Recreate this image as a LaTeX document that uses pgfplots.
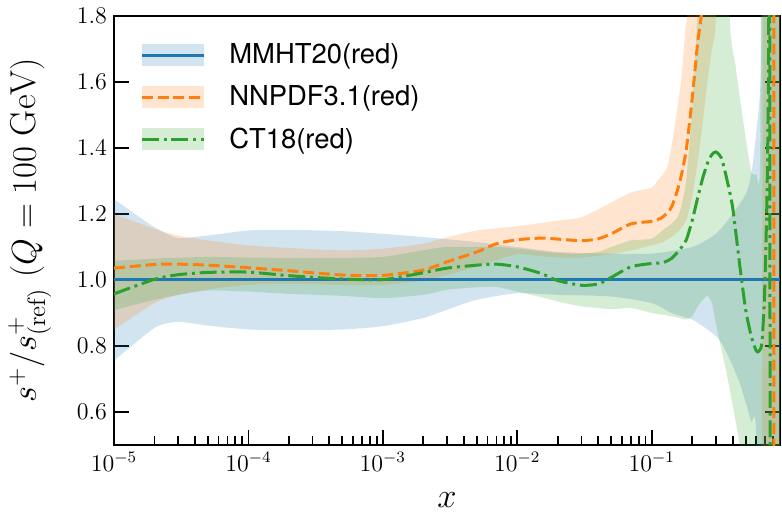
\documentclass[border=0pt]{standalone}
\usepackage{pgfplots}
\pgfplotsset{compat=1.18}
\usepackage{fontspec}
\newfontfamily\legendfont{TeX Gyre Heros}
\definecolor{tabblue}{HTML}{1F77B4}
\definecolor{taborange}{HTML}{FF7F0E}
\definecolor{tabgreen}{HTML}{2CA02C}
\pgfplotsset{
  bandleg/.style={legend image code/.code={%
    \fill[#1!20, draw=none, solid] (0pt,-5.5pt) rectangle (31pt,5.5pt);
    \draw[##1] (0pt,0pt) -- (31pt,0pt);}},
  band/.style={draw=none, fill=#1, fill opacity=0.2, forget plot, smooth, tension=0.4},
}

\begin{document}
\begin{tikzpicture}
\begin{axis}[
    width=333pt, height=214.5pt, scale only axis,
    xmode=log, xmin=1e-5, xmax=0.9,
    ymin=0.5, ymax=1.8,
    xtick={1e-5,1e-4,1e-3,1e-2,1e-1},
    minor xtick={2e-5,3e-5,4e-5,5e-5,6e-5,7e-5,8e-5,9e-5,
                 2e-4,3e-4,4e-4,5e-4,6e-4,7e-4,8e-4,9e-4,
                 2e-3,3e-3,4e-3,5e-3,6e-3,7e-3,8e-3,9e-3,
                 2e-2,3e-2,4e-2,5e-2,6e-2,7e-2,8e-2,9e-2,
                 0.2,0.3,0.4,0.5,0.6,0.7,0.8},
    ytick={0.6,0.8,1.0,1.2,1.4,1.6,1.8},
    yticklabel style={/pgf/number format/fixed, /pgf/number format/precision=1, /pgf/number format/fixed zerofill},
    tick align=inside, xtick pos=lower, ytick pos=both,
    major tick length=7.5pt, minor tick length=4.5pt,
    every tick/.style={black, line width=0.9pt},
    axis line style={line width=1.2pt},
    tick label style={font=\fontsize{12}{14}\selectfont},
    label style={font=\fontsize{18}{21}\selectfont},
    xlabel={$x$},
    ylabel={$s^+/s^+_{(\mathrm{ref})}\ (Q = 100\ \mathrm{GeV})$},
    xlabel style={yshift=-4pt},
    ylabel style={yshift=6pt},
    legend style={draw=none, fill=none, at={(0.03,0.955)}, anchor=north west,
                  font=\legendfont\fontsize{13.7}{16}\selectfont, row sep=5.5pt, column sep=10pt},
    legend cell align=left,
]
% bands
\addplot[band=tabblue] coordinates {
(1e-5,1.245) (2e-5,1.16) (3e-5,1.128) (5e-5,1.135) (1e-4,1.15) (2e-4,1.152) (5e-4,1.148)
(1e-3,1.14) (2e-3,1.13) (5e-3,1.115) (1e-2,1.10) (2e-2,1.085) (5e-2,1.08) (0.1,1.08)
(0.2,1.1) (0.3,1.14) (0.4,1.2) (0.5,1.26) (0.55,1.32) (0.6,1.45) (0.65,1.65) (0.68,2.5) (0.9,2.5)
(0.9,-0.5) (0.62,-0.5) (0.6,0.52) (0.55,0.57) (0.5,0.63) (0.45,0.69) (0.4,0.74) (0.36,0.78)
(0.33,0.81) (0.3,0.83) (0.26,0.85) (0.2,0.88) (0.14,0.9) (0.1,0.93) (5e-2,0.95) (2e-2,0.955)
(1e-2,0.96) (5e-3,0.94) (3e-3,0.91) (2e-3,0.885) (1e-3,0.86) (5e-4,0.85) (2e-4,0.848)
(1e-4,0.85) (5e-5,0.862) (3e-5,0.873) (2e-5,0.855) (1e-5,0.755)
};
\addplot[band=taborange] coordinates {
(1e-5,1.2) (2e-5,1.155) (3e-5,1.135) (5e-5,1.12) (1e-4,1.105) (2e-4,1.097) (5e-4,1.09)
(1e-3,1.095) (2e-3,1.11) (3e-3,1.13) (5e-3,1.15) (1e-2,1.163) (2e-2,1.18) (3e-2,1.19)
(5e-2,1.235) (7e-2,1.265) (0.1,1.28) (0.11,1.30) (0.13,1.34) (0.145,1.44) (0.165,1.6)
(0.178,1.76) (0.185,1.85) (0.19,2.5) (0.9,2.5)
(0.9,-0.5) (0.66,-0.5) (0.645,2.5) (0.31,2.5) (0.3,1.8) (0.28,1.7) (0.26,1.6) (0.24,1.48)
(0.22,1.36) (0.2,1.25) (0.18,1.18) (0.16,1.15) (0.14,1.13) (0.12,1.115) (0.1,1.105)
(7e-2,1.09) (5e-2,1.078) (3e-2,1.068) (2e-2,1.068) (1.5e-2,1.072) (1e-2,1.078) (7e-3,1.06)
(5e-3,1.04) (3e-3,1.015) (2e-3,0.998) (1e-3,0.985) (5e-4,0.985) (2e-4,0.988) (1e-4,0.985)
(5e-5,0.972) (3e-5,0.955) (2e-5,0.93) (1e-5,0.85)
};
\addplot[band=tabgreen] coordinates {
(1e-5,1.058) (2e-5,1.065) (5e-5,1.07) (1e-4,1.068) (2e-4,1.067) (5e-4,1.067) (1e-3,1.07)
(2e-3,1.09) (3e-3,1.1) (7e-3,1.1) (1e-2,1.095) (2e-2,1.082) (3e-2,1.08) (4e-2,1.085)
(5e-2,1.1) (7e-2,1.12) (0.1,1.125) (0.12,1.15) (0.14,1.17) (0.16,1.2) (0.18,1.3) (0.2,1.52)
(0.22,1.85) (0.24,2.5) (0.36,2.5) (0.38,1.8) (0.42,1.65) (0.45,1.56) (0.5,1.43) (0.55,1.33)
(0.6,1.32) (0.64,1.36) (0.67,2.5) (0.9,2.5)
(0.9,-0.5) (0.6,-0.5) (0.5,0.3) (0.45,0.5) (0.4,0.62) (0.36,0.72) (0.33,0.79) (0.3,0.87)
(0.28,0.93) (0.26,0.952) (0.24,0.94) (0.22,0.92) (0.2,0.89) (0.18,0.88) (0.16,0.885)
(0.14,0.89) (0.12,0.895) (0.1,0.9) (7e-2,0.915) (5e-2,0.912) (3e-2,0.92) (2e-2,0.935)
(1.5e-2,0.948) (1e-2,0.965) (7e-3,0.979) (5e-3,0.978) (3e-3,0.97) (2e-3,0.955) (1e-3,0.945)
(5e-4,0.952) (2e-4,0.958) (1e-4,0.965) (5e-5,0.968) (3e-5,0.955) (2e-5,0.94) (1e-5,0.909)
};
% central values
\addplot[tabblue, line width=1.5pt, bandleg=tabblue]
  coordinates {(1e-5,1.0) (0.9,1.0)};
\addlegendentry{MMHT20(red)}
\addplot[taborange, line width=1.5pt, dash pattern=on 5.5pt off 2.4pt, bandleg=taborange, smooth, tension=0.4]
  coordinates {
(1e-5,1.036) (2e-5,1.047) (3e-5,1.048) (5e-5,1.045) (1e-4,1.037) (2e-4,1.028) (5e-4,1.015)
(1e-3,1.014) (2e-3,1.03) (3e-3,1.055) (5e-3,1.085) (7e-3,1.11) (1e-2,1.122) (1.5e-2,1.127)
(2e-2,1.124) (3e-2,1.119) (4e-2,1.125) (5e-2,1.14) (7e-2,1.17) (0.1,1.178) (0.12,1.19)
(0.14,1.22) (0.16,1.29) (0.18,1.39) (0.2,1.55) (0.22,1.72) (0.24,1.85) (0.26,2.2)
(0.5,3.0) (0.79,3.0) (0.80,-1.0)
};
\addlegendentry{NNPDF3.1(red)}
\addplot[tabgreen, line width=1.5pt, dash pattern=on 8.5pt off 2.4pt on 1.5pt off 2.4pt, bandleg=tabgreen, smooth, tension=0.4]
  coordinates {
(1e-5,0.958) (2e-5,1.002) (3e-5,1.016) (5e-5,1.023) (1e-4,1.024) (2e-4,1.013) (5e-4,1.003)
(1e-3,1.001) (2e-3,1.022) (3e-3,1.036) (5e-3,1.045) (7e-3,1.048) (1e-2,1.04) (1.5e-2,1.02)
(2e-2,0.998) (3e-2,0.984) (4e-2,0.988) (5e-2,1.008) (7e-2,1.04) (0.1,1.05) (0.12,1.052)
(0.14,1.065) (0.16,1.09) (0.18,1.12) (0.2,1.18) (0.22,1.25) (0.24,1.31) (0.26,1.354)
(0.28,1.38) (0.3,1.388) (0.33,1.37) (0.36,1.31) (0.4,1.22) (0.45,1.05) (0.5,0.91)
(0.55,0.83) (0.6,0.785) (0.63,0.785) (0.66,0.81) (0.69,0.95) (0.72,1.25) (0.74,1.7)
(0.75,3.0) (0.765,-1.0)
};
\addlegendentry{CT18(red)}
\end{axis}
\pgfresetboundingbox
\path (current axis.south west) ++(-57pt,-38pt) rectangle ++(391pt,260.5pt);
\end{tikzpicture}
\end{document}
